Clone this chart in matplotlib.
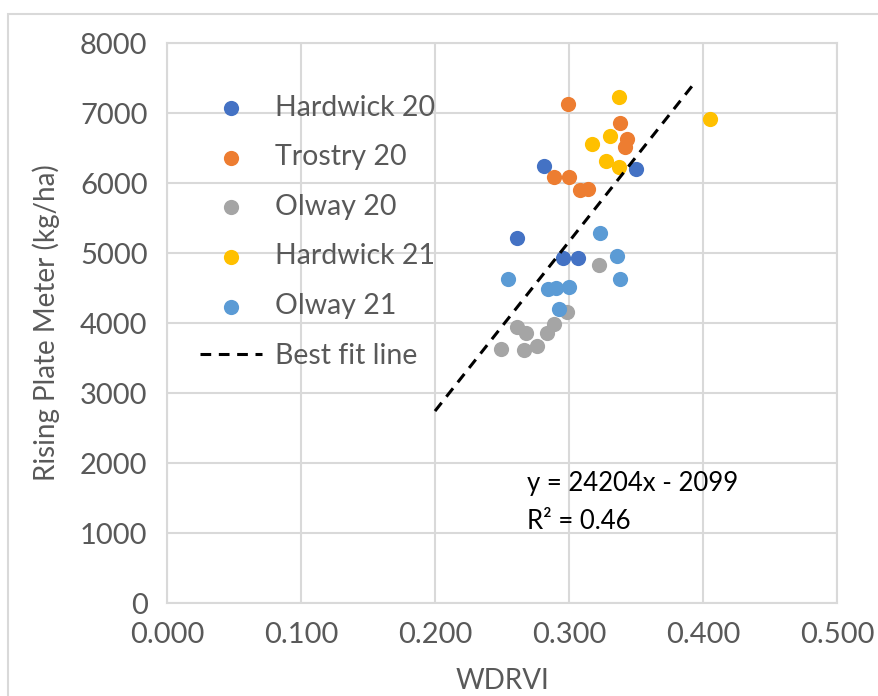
import matplotlib
matplotlib.use('Agg')
import matplotlib.pyplot as plt
from matplotlib.patches import Rectangle

plt.rcParams['font.family'] = ['Lato', 'DejaVu Sans']

# data
hw20_x = [0.2816, 0.350, 0.261, 0.2953, 0.307]
hw20_y = [6247, 6196, 5210, 4933, 4933]

tr20_x = [0.299, 0.3383, 0.343, 0.342, 0.2886, 0.300, 0.3085, 0.314]
tr20_y = [7129, 6861, 6629, 6510, 6086, 6086, 5900, 5914]

ol20_x = [0.3224, 0.2983, 0.2886, 0.2838, 0.261, 0.268, 0.2493, 0.2667, 0.2763]
ol20_y = [4829, 4162, 3986, 3852, 3938, 3862, 3624, 3614, 3671]

hw21_x = [0.3375, 0.405, 0.3306, 0.3174, 0.3276, 0.3375]
hw21_y = [7224, 6914, 6676, 6553, 6314, 6233]

ol21_x = [0.323, 0.3356, 0.3383, 0.2543, 0.284, 0.290, 0.300, 0.2925]
ol21_y = [5281, 4957, 4624, 4624, 4481, 4495, 4510, 4195]

slope, intercept = 24204, -2099
fit_x = [0.200, 0.395]
fit_y = [slope * v + intercept for v in fit_x]

xticks = [0.0, 0.1, 0.2, 0.3, 0.4, 0.5]
yticks = [0, 1000, 2000, 3000, 4000, 5000, 6000, 7000, 8000]

fig = plt.figure(figsize=(8.79, 6.96), dpi=100)
ax = fig.add_axes([167/879, 1 - 603/696, 670/879, 560/696])

# outer chart frame
fig.patches.append(Rectangle((8/879, -0.01), 1.0, 1 - 14/696 + 0.01,
                             transform=fig.transFigure, fill=False,
                             edgecolor='#d9d9d9', linewidth=1.5))

series = [
    (hw20_x, hw20_y, '#4472C4', 'Hardwick 20'),
    (tr20_x, tr20_y, '#ED7D31', 'Trostry 20'),
    (ol20_x, ol20_y, '#A5A5A5', 'Olway 20'),
    (hw21_x, hw21_y, '#FFC000', 'Hardwick 21'),
    (ol21_x, ol21_y, '#5B9BD5', 'Olway 21'),
]
for xs, ys, c, lab in series:
    ax.scatter(xs, ys, s=120, color=c, label=lab, zorder=3, linewidths=0)

ax.plot(fit_x, fit_y, color='black', linestyle=(0, (3.5, 2.5)), linewidth=2.2,
        label='Best fit line', zorder=4)

ax.set_xlim(0, 0.5)
ax.set_ylim(0, 8000)
ax.set_xticks(xticks)
ax.set_xticklabels(['%.3f' % v for v in xticks])
ax.set_yticks(yticks)
ax.grid(True, color='#d9d9d9', linewidth=1.5)
ax.set_axisbelow(True)
for sp in ax.spines.values():
    sp.set_color('#d9d9d9')
    sp.set_linewidth(1.5)
ax.tick_params(length=0, labelsize=21, labelcolor='#595959', pad=14)

ax.set_xlabel('WDRVI', fontsize=20, color='#595959', labelpad=14)
ax.set_ylabel('Rising Plate Meter (kg/ha)', fontsize=20, color='#595959', labelpad=14)

ax.text(0.2687, 1714, 'y = 24204x - 2099', fontsize=18.5, color='black', va='center')
ax.text(0.2687, 1160, 'R² = 0.46', fontsize=18.5, color='black', va='center')

ax.legend(loc='upper left', bbox_to_anchor=(0.049, 0.908), frameon=False,
          fontsize=20.5, labelcolor='#595959', labelspacing=0.83,
          borderpad=0, borderaxespad=0,
          handlelength=2.2, handletextpad=0.45)

fig.savefig('out.png', dpi=100)
